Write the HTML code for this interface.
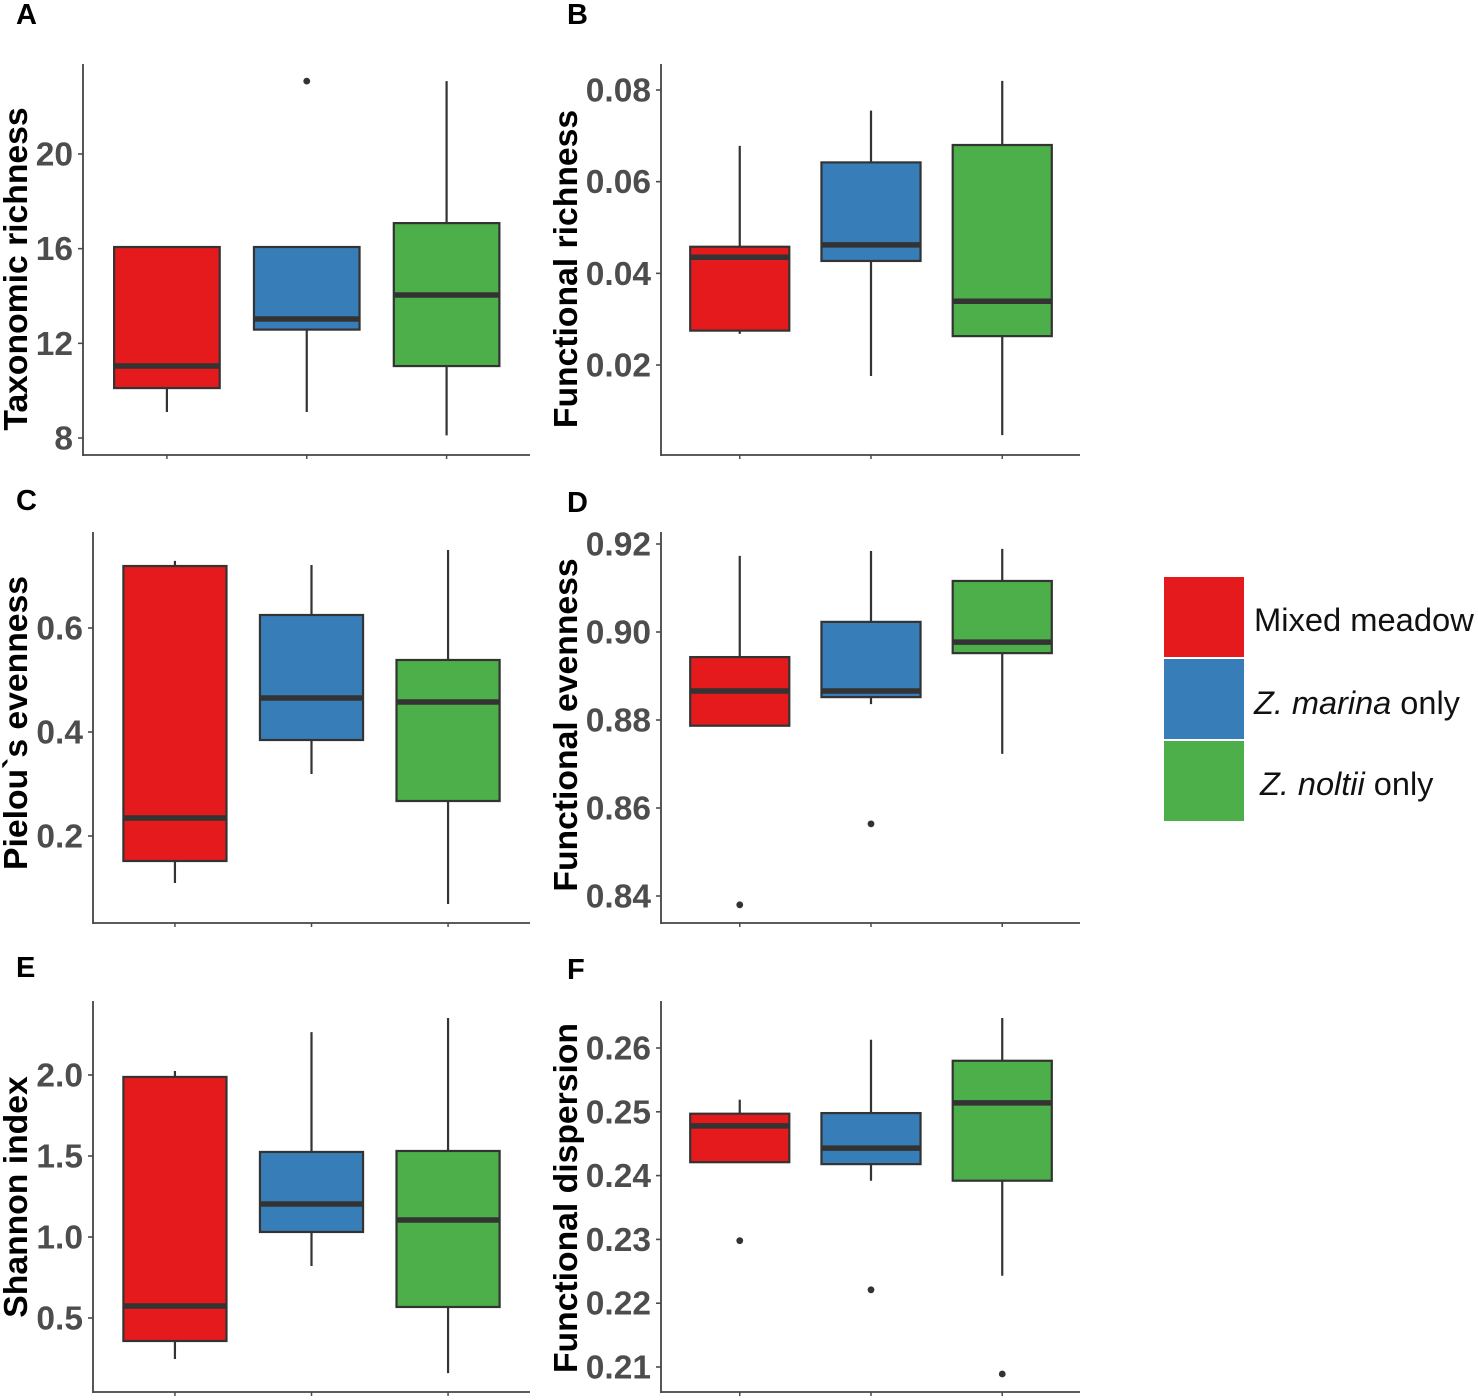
<!DOCTYPE html>
<html lang="en">
<head>
<meta charset="utf-8">
<title>Diversity indices by seagrass meadow type</title>
<style>
html,body{margin:0;padding:0;background:#fff;}
svg{display:block;font-family:"Liberation Sans",sans-serif;}
</style>
</head>
<body>
<svg id="figure" xmlns="http://www.w3.org/2000/svg" width="1478" height="1400" viewBox="0 0 1478 1400">
  <g>
    <rect x="1164" y="577" width="80" height="80" fill="#e41a1c"/>
    <rect x="1164" y="659" width="80" height="80" fill="#377eb8"/>
    <rect x="1164" y="741" width="80" height="80" fill="#4daf4a"/>
    <text x="1254" y="631" font-size="32.7" fill="#111">Mixed meadow</text>
    <text x="1254" y="714" font-size="32.5" fill="#111"><tspan font-style="italic">Z. marina</tspan> only</text>
    <text x="1260" y="795" font-size="32.5" fill="#111"><tspan font-style="italic">Z. noltii</tspan> only</text>
  </g>
</svg>
<script>
var categories = ['Mixed meadow', 'Z. marina only', 'Z. noltii only'];
var seriesColors = ['#e41a1c', '#377eb8', '#4daf4a'];

var panelATicks = [8, 12, 16, 20];
var panelATickLabels = ['8', '12', '16', '20'];
var panelAWhiskerLow = [9.1, 9.1, 8.11];
var panelAQ1 = [10.11, 12.58, 11.04];
var panelAMedian = [11.04, 13.03, 14.04];
var panelAQ3 = [16.07, 16.07, 17.08];
var panelAWhiskerHigh = [16.07, 16.07, 23.08];
var panelAOutliers = [[], [23.08], []];

var panelBTicks = [0.02, 0.04, 0.06, 0.08];
var panelBTickLabels = ['0.02', '0.04', '0.06', '0.08'];
var panelBWhiskerLow = [0.0268, 0.0176, 0.0047];
var panelBQ1 = [0.0275, 0.0427, 0.0263];
var panelBMedian = [0.0435, 0.0462, 0.0339];
var panelBQ3 = [0.0458, 0.0642, 0.068];
var panelBWhiskerHigh = [0.0678, 0.0755, 0.082];
var panelBOutliers = [[], [], []];

var panelCTicks = [0.2, 0.4, 0.6];
var panelCTickLabels = ['0.2', '0.4', '0.6'];
var panelCWhiskerLow = [0.1096, 0.3192, 0.0692];
var panelCQ1 = [0.1519, 0.3846, 0.2673];
var panelCMedian = [0.2346, 0.4654, 0.4577];
var panelCQ3 = [0.7192, 0.625, 0.5385];
var panelCWhiskerHigh = [0.729, 0.7212, 0.75];
var panelCOutliers = [[], [], []];

var panelDTicks = [0.84, 0.86, 0.88, 0.90, 0.92];
var panelDTickLabels = ['0.84', '0.86', '0.88', '0.90', '0.92'];
var panelDWhiskerLow = [0.8787, 0.8836, 0.8723];
var panelDQ1 = [0.8787, 0.8852, 0.8952];
var panelDMedian = [0.8866, 0.8866, 0.8977];
var panelDQ3 = [0.8943, 0.9023, 0.9116];
var panelDWhiskerHigh = [0.9173, 0.9184, 0.9189];
var panelDOutliers = [[0.838], [0.8564], []];

var panelETicks = [0.5, 1.0, 1.5, 2.0];
var panelETickLabels = ['0.5', '1.0', '1.5', '2.0'];
var panelEWhiskerLow = [0.247, 0.821, 0.16];
var panelEQ1 = [0.358, 1.031, 0.568];
var panelEMedian = [0.574, 1.204, 1.105];
var panelEQ3 = [1.988, 1.525, 1.531];
var panelEWhiskerHigh = [2.025, 2.265, 2.352];
var panelEOutliers = [[], [], []];

var panelFTicks = [0.21, 0.22, 0.23, 0.24, 0.25, 0.26];
var panelFTickLabels = ['0.21', '0.22', '0.23', '0.24', '0.25', '0.26'];
var panelFWhiskerLow = [0.2421, 0.2392, 0.2243];
var panelFQ1 = [0.2421, 0.2418, 0.2392];
var panelFMedian = [0.2478, 0.2443, 0.2514];
var panelFQ3 = [0.2497, 0.2498, 0.258];
var panelFWhiskerHigh = [0.2519, 0.2613, 0.2647];
var panelFOutliers = [[0.2298], [0.2221], [0.2089]];

var SVGNS = 'http://www.w3.org/2000/svg';
var figure = document.getElementById('figure');

function make(tag, parent, attrs, text) {
  var node = document.createElementNS(SVGNS, tag);
  for (var key in attrs) { node.setAttribute(key, attrs[key]); }
  if (text !== undefined) { node.textContent = text; }
  parent.appendChild(node);
  return node;
}

function slug(label) {
  return label.toLowerCase().replace(/[^a-z0-9]+/g, '-').replace(/-$/, '');
}

function drawPanel(p) {
  var group = make('g', figure, {});
  
  

  var unit = (p.scaleRight - p.left) / 3.2;
  function xScale(i) { return p.left + (0.6 + i) * unit; }
  function yScale(v) {
    return p.pixelAtLow + (v - p.valueLow) * (p.pixelAtHigh - p.pixelAtLow) / (p.valueHigh - p.valueLow);
  }
  var boxWidth = unit * 0.755;

  var letter = make('text', group, { x: p.letterX, y: p.letterY, 'font-size': 29, 'font-weight': 'bold', fill: '#000' }, p.letter);
  
  

  var title = make('text', group, {
    x: p.titleX, y: p.titleY, 'font-size': 33.7, 'font-weight': 'bold', fill: '#000',
    'text-anchor': 'middle', transform: 'rotate(-90 ' + p.titleX + ' ' + p.titleY + ')'
  }, p.title);
  
  

  categories.forEach(function (cat, i) {
    var name = slug(cat);
    var cx = xScale(i);
    var lowY = yScale(p.low[i]), q1Y = yScale(p.q1[i]), medY = yScale(p.median[i]), q3Y = yScale(p.q3[i]), highY = yScale(p.high[i]);

    var whisker = make('line', group, { x1: cx, x2: cx, y1: lowY, y2: highY, stroke: '#333', 'stroke-width': 2.2 });
    
    

    var box = make('rect', group, {
      x: cx - boxWidth / 2, y: q3Y, width: boxWidth, height: q1Y - q3Y,
      fill: seriesColors[i], stroke: '#333', 'stroke-width': 2.2
    });
    
    

    var median = make('line', group, { x1: cx - boxWidth / 2, x2: cx + boxWidth / 2, y1: medY, y2: medY, stroke: '#333', 'stroke-width': 5.5 });
    
    

    p.outliers[i].forEach(function (v) {
      var dot = make('circle', group, { cx: cx, cy: yScale(v), r: 3.4, fill: '#333' });
      
      
    });

    var xTick = make('line', group, { x1: cx, x2: cx, y1: p.bottom, y2: p.bottom + 4, stroke: '#4d4d4d', 'stroke-width': 1.5 });
    
    
  });

  p.ticks.forEach(function (v, i) {
    var y = yScale(v);
    var tick = make('line', group, { x1: p.left - 5, x2: p.left, y1: y, y2: y, stroke: '#4d4d4d', 'stroke-width': 1.6 });
    
    

    var label = make('text', group, {
      x: p.left - 10, y: y + 11.5, 'font-size': 33.5, 'font-weight': 'bold', fill: '#4d4d4d', 'text-anchor': 'end'
    }, p.tickLabels[i]);
    
    
  });

  var yAxis = make('line', group, { x1: p.left, x2: p.left, y1: p.top, y2: p.bottom + 1, stroke: '#444', 'stroke-width': 1.8 });
  
  

  var xAxis = make('line', group, { x1: p.left, x2: p.right, y1: p.bottom, y2: p.bottom, stroke: '#444', 'stroke-width': 1.8 });
  
  
}

drawPanel({ letter: 'A', letterX: 16, letterY: 24, title: 'Taxonomic richness', titleX: 27, titleY: 269,
  left: 83, right: 530, scaleRight: 530.5, top: 64, bottom: 455, valueLow: 8, pixelAtLow: 438, valueHigh: 20, pixelAtHigh: 154,
  ticks: panelATicks, tickLabels: panelATickLabels, low: panelAWhiskerLow, q1: panelAQ1, median: panelAMedian, q3: panelAQ3, high: panelAWhiskerHigh, outliers: panelAOutliers });

drawPanel({ letter: 'B', letterX: 567, letterY: 24, title: 'Functional richness', titleX: 577, titleY: 269,
  left: 661, right: 1080, scaleRight: 1081, top: 64, bottom: 455, valueLow: 0.02, pixelAtLow: 365, valueHigh: 0.08, pixelAtHigh: 90,
  ticks: panelBTicks, tickLabels: panelBTickLabels, low: panelBWhiskerLow, q1: panelBQ1, median: panelBMedian, q3: panelBQ3, high: panelBWhiskerHigh, outliers: panelBOutliers });

drawPanel({ letter: 'C', letterX: 16, letterY: 510, title: 'Pielou`s evenness', titleX: 27, titleY: 723,
  left: 93, right: 530, scaleRight: 530, top: 532, bottom: 923, valueLow: 0.2, pixelAtLow: 836, valueHigh: 0.6, pixelAtHigh: 628,
  ticks: panelCTicks, tickLabels: panelCTickLabels, low: panelCWhiskerLow, q1: panelCQ1, median: panelCMedian, q3: panelCQ3, high: panelCWhiskerHigh, outliers: panelCOutliers });

drawPanel({ letter: 'D', letterX: 567, letterY: 512, title: 'Functional evenness', titleX: 577, titleY: 725,
  left: 661, right: 1080, scaleRight: 1081, top: 532, bottom: 923, valueLow: 0.84, pixelAtLow: 896, valueHigh: 0.92, pixelAtHigh: 544,
  ticks: panelDTicks, tickLabels: panelDTickLabels, low: panelDWhiskerLow, q1: panelDQ1, median: panelDMedian, q3: panelDQ3, high: panelDWhiskerHigh, outliers: panelDOutliers });

drawPanel({ letter: 'E', letterX: 16, letterY: 977, title: 'Shannon index', titleX: 27, titleY: 1197,
  left: 93, right: 530, scaleRight: 530, top: 1001, bottom: 1392, valueLow: 0.5, pixelAtLow: 1318, valueHigh: 2.0, pixelAtHigh: 1075,
  ticks: panelETicks, tickLabels: panelETickLabels, low: panelEWhiskerLow, q1: panelEQ1, median: panelEMedian, q3: panelEQ3, high: panelEWhiskerHigh, outliers: panelEOutliers });

drawPanel({ letter: 'F', letterX: 567, letterY: 979, title: 'Functional dispersion', titleX: 577, titleY: 1198,
  left: 661, right: 1080, scaleRight: 1081, top: 1001, bottom: 1392, valueLow: 0.21, pixelAtLow: 1367, valueHigh: 0.26, pixelAtHigh: 1048,
  ticks: panelFTicks, tickLabels: panelFTickLabels, low: panelFWhiskerLow, q1: panelFQ1, median: panelFMedian, q3: panelFQ3, high: panelFWhiskerHigh, outliers: panelFOutliers });
</script>
</body>
</html>
